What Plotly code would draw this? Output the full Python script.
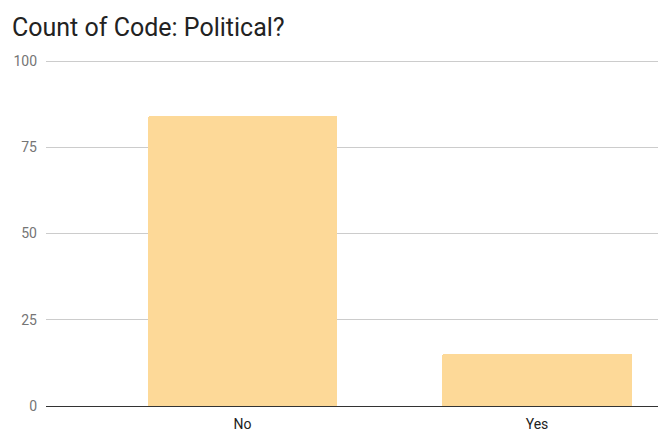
import plotly.graph_objects as go

categories = ["No", "Yes"]
counts = [84, 15]
y_ticks = [0, 25, 50, 75, 100]

# page body has an 8px default margin; positions below compensate for it
OFF = 8
px_per_unit = (406 - 61) / 100.0
t_margin = 50
y_top = 100 + (61 - OFF - t_margin) / px_per_unit

fig = go.Figure(go.Bar(
    x=categories, y=counts,
    marker=dict(color="#fdd998", line=dict(width=0), cornerradius=2),
    width=0.642,
))

fig.update_layout(
    width=666, height=432,
    margin=dict(l=46 - OFF, r=0, t=t_margin, b=432 - (406 - OFF)),
    paper_bgcolor="white", plot_bgcolor="white",
    font=dict(family="Roboto", size=14, color="#222222"),
    title=dict(text="Count of Code: Political?", x=(12 - OFF) / 666, xref="container",
               xanchor="left", y=1 - (27 - OFF) / 432, yref="container", yanchor="middle",
               font=dict(family="Roboto", size=25, color="#222222")),
    showlegend=False,
    bargap=0,
)
fig.update_xaxes(range=[-0.667, (674 - 242.5) / 294.5], showgrid=False, showline=False, ticks="",
                 ticklabelstandoff=8,
                 tickfont=dict(family="Roboto", size=14, color="#222222"))
fig.update_yaxes(range=[0, y_top], tickvals=y_ticks, showgrid=True, gridcolor="#cccccc",
                 gridwidth=1, zeroline=True, zerolinecolor="#333333", zerolinewidth=1,
                 showline=False, ticks="", ticklabelstandoff=8,
                 tickfont=dict(family="Roboto", size=14, color="#757575"))

fig.write_html("out.html")
